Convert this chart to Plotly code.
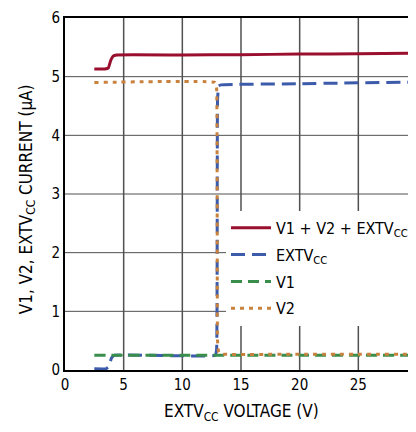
import plotly.graph_objects as go

# Data
red_x = [2.5, 3.4, 3.7, 3.9, 4.1, 4.4, 10, 15, 20, 25, 30.5]
red_y = [5.13, 5.13, 5.15, 5.28, 5.35, 5.37, 5.37, 5.375, 5.385, 5.39, 5.40]

blue_x = [2.5, 3.5, 3.75, 3.95, 4.2, 12.8, 12.92, 13.0, 13.1, 13.3, 20, 30.5]
blue_y = [0.02, 0.02, 0.06, 0.2, 0.25, 0.25, 0.35, 4.6, 4.84, 4.86, 4.88, 4.91]

green_x = [2.5, 10, 20, 30.5]
green_y = [0.25, 0.25, 0.25, 0.25]

orange_x = [2.5, 12.8, 12.92, 13.0, 13.1, 13.4, 20, 30.5]
orange_y = [4.9, 4.9, 4.8, 0.5, 0.3, 0.27, 0.27, 0.27]

names = ["V1 + V2 + EXTV<sub>CC</sub>", "EXTV<sub>CC</sub>", "V1", "V2"]
colors = ["#9A0E2E", "#3C5BAA", "#3A8E4C", "#C9823E"]
dashes = ["solid", "14px,7px", "11px,6px", "4px,5px"]

x_ticks = [0, 5, 10, 15, 20, 25]
y_ticks = [0, 1, 2, 3, 4, 5, 6]
x_grid = [5, 10, 15, 20, 25]
y_grid = [1, 2, 3, 4, 5]
x_last_label = "30"

x_title = "EXTV<sub>CC</sub> VOLTAGE (V)"
y_title = "V1, V2, EXTV<sub>CC</sub> CURRENT (µA)"

FONT = "DejaVu Sans Condensed, Roboto, sans-serif"
GRID = "#505050"

fig = go.Figure()
for i, (xs, ys, n, c, d) in enumerate(zip([red_x, blue_x, green_x, orange_x],
                                          [red_y, blue_y, green_y, orange_y],
                                          names, colors, dashes)):
    fig.add_trace(go.Scatter(x=xs, y=ys, mode="lines", name=n, legendgroup=f"g{i}",
                             line=dict(color=c, width=3, dash=d, shape="spline", smoothing=0.3)))

for gx in x_grid:
    fig.add_shape(type="line", xref="x", yref="paper", x0=gx, x1=gx, y0=0, y1=1,
                  line=dict(color=GRID, width=1.5), layer="below")
for gy in y_grid:
    fig.add_shape(type="line", xref="paper", yref="y", x0=0, x1=1, y0=gy, y1=gy,
                  line=dict(color=GRID, width=1), layer="below")

fig.update_layout(
    template="none",
    width=416, height=424,
    margin=dict(l=57, r=7, t=9.5, b=61.5, autoexpand=False),
    paper_bgcolor="white", plot_bgcolor="white",
    font=dict(family=FONT, size=15, color="black"),
    showlegend=True,
    legend=dict(x=0.4574, y=0.452, xanchor="left", yanchor="top",
                bgcolor="white", borderwidth=0, font=dict(size=16),
                itemwidth=40, traceorder="grouped", tracegroupgap=3),
    xaxis=dict(range=[0, 30], tickmode="array", tickvals=x_ticks,
               showgrid=False, showline=True, linecolor="black", linewidth=2, mirror=True,
               ticks="", zeroline=False, automargin=False),
    yaxis=dict(range=[0, 6], tickmode="array", tickvals=y_ticks,
               showgrid=False, showline=True, linecolor="black", linewidth=2,
               ticks="", zeroline=False, automargin=False),
)
fig.add_annotation(x=(400 - 57) / 352, y=-0.054, xref="paper", yref="paper", text=x_last_label,
                   showarrow=False, xanchor="left", yanchor="middle", font=dict(size=15))
fig.add_annotation(x=0.5, y=-0.12, xref="paper", yref="paper", text=x_title,
                   showarrow=False, xanchor="center", yanchor="middle", font=dict(size=17))
fig.add_annotation(x=-0.108, y=0.485, xref="paper", yref="paper", text=y_title, textangle=-90,
                   showarrow=False, xanchor="center", yanchor="middle", font=dict(size=17))
fig.write_html("out.html")
